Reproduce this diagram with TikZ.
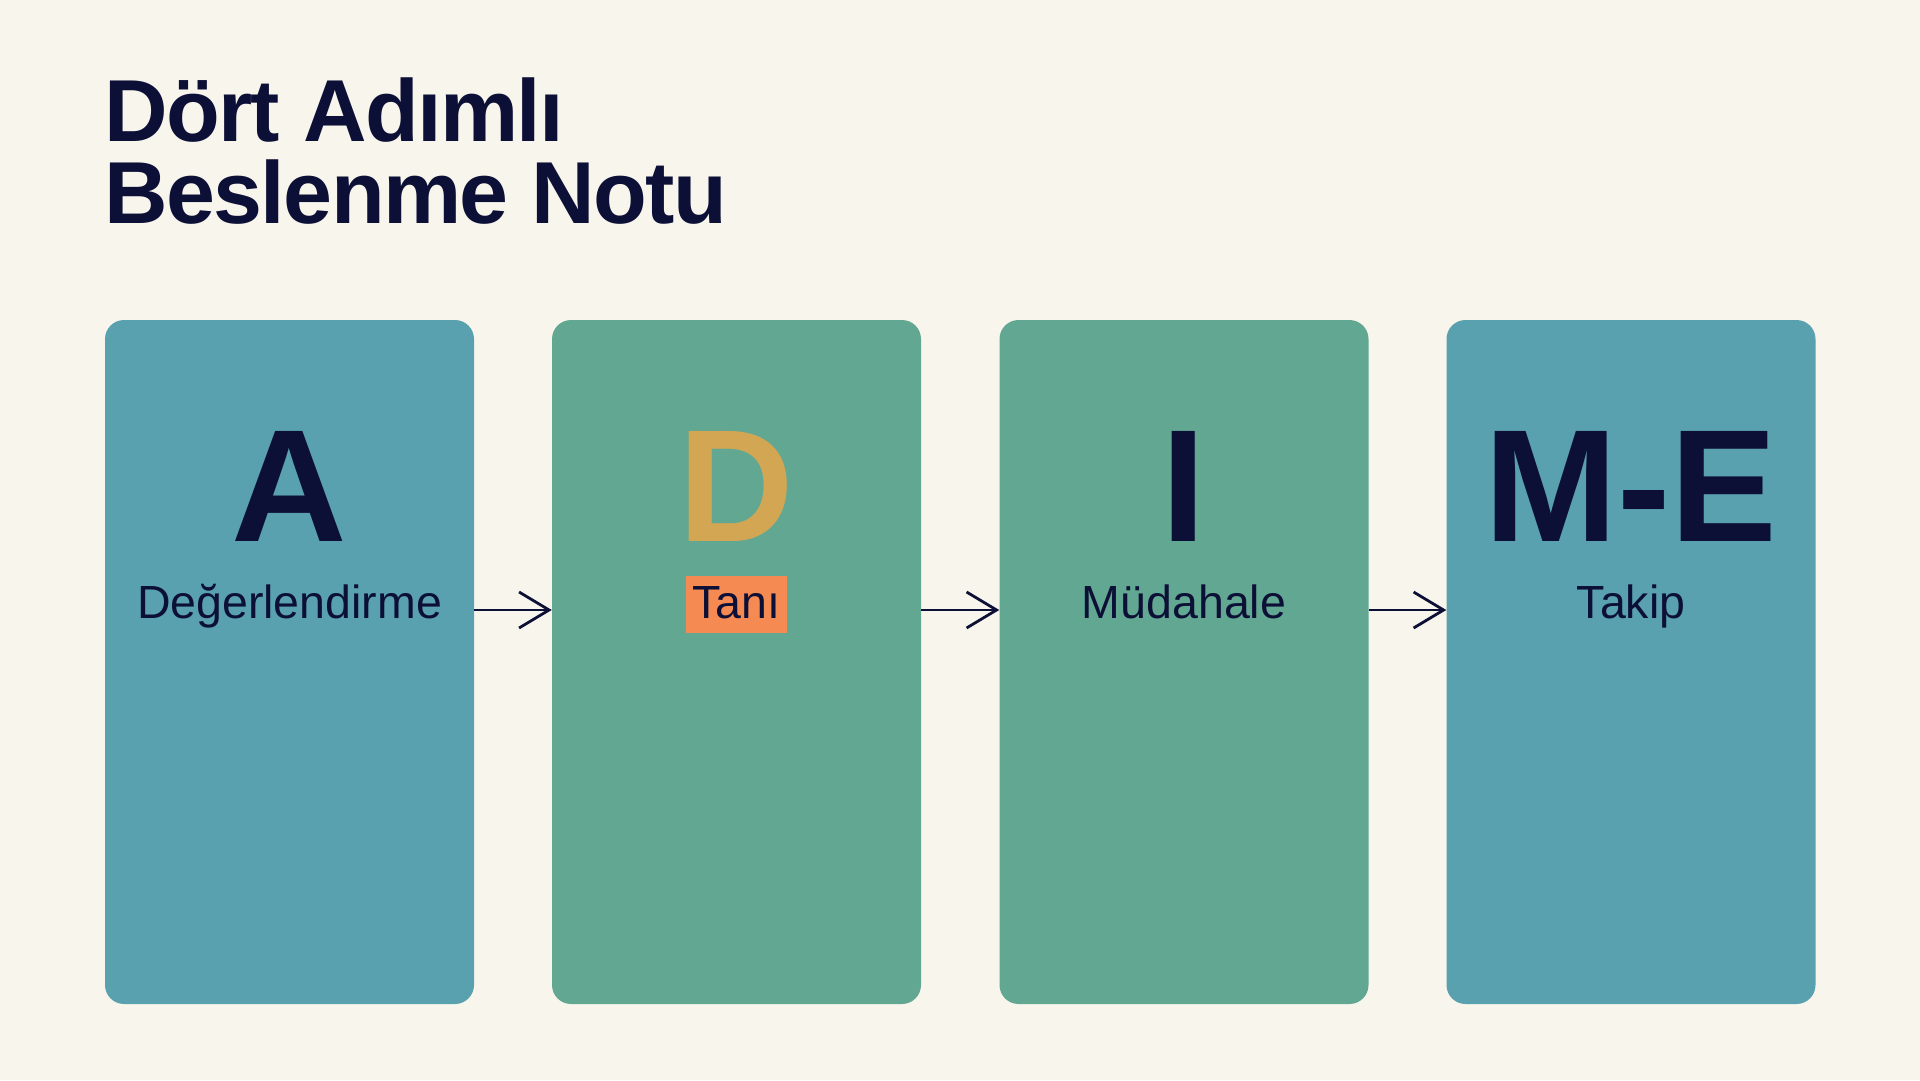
\documentclass[tikz,border=0pt]{standalone}
\usepackage{fontspec}
\setmainfont{Liberation Sans}
\usetikzlibrary{arrows.meta}
\definecolor{bgc}{HTML}{F8F5EC}
\definecolor{navy}{HTML}{0D1036}
\definecolor{cblue}{HTML}{5AA1AF}
\definecolor{cgreen}{HTML}{62A792}
\definecolor{gold}{HTML}{D3A654}
\definecolor{orng}{HTML}{F58A52}
\tikzset{
  card/.style={rounded corners=19pt, minimum width=369pt, minimum height=684pt, inner sep=0pt, draw=none},
  bigletter/.style={anchor=base, text=navy, font=\fontsize{160}{160}\selectfont\bfseries, inner sep=0pt},
  steplabel/.style={anchor=base, text=navy, font=\fontsize{46.5}{46.5}\selectfont, inner sep=0pt},
  titletext/.style={anchor=base west, text=navy, inner sep=0pt, align=left},
  arr/.style={draw=navy, line width=2.8pt, -{Straight Barb[length=30pt,width=36pt,line width=2.8pt]}}
}
\begin{document}
\begin{tikzpicture}[x=1pt,y=-1pt]
\fill[bgc] (0,0) rectangle (1920,1080);
\useasboundingbox (0,0) rectangle (1920,1080);
\newfontfamily\titlefont[LetterSpace=-1.8]{Liberation Sans}
\node[titletext, font=\fontsize{88}{82}\titlefont\bfseries] (t1) at (104,141) {Dört Adımlı};
\node[titletext, font=\fontsize{88}{82}\titlefont\bfseries] (t2) at (104,223) {Beslenme Notu};

\node[card, fill=cblue] (c1) at (289.5,662) {};
\node[card, fill=cgreen] (c2) at (736.5,662) {};
\node[card, fill=cgreen] (c3) at (1184,662) {};
\node[card, fill=cblue] (c4) at (1631,662) {};

\node[bigletter] (l1) at (289.5,541) {A};
\node[bigletter, text=gold] (l2) at (736.5,541) {D};
\node[bigletter] (l3) at (1184,541) {I};
\node[bigletter] (l4) at (1631,541) {M-E};

\node[steplabel] (s1) at (289.5,618) {Değerlendirme};
\node[steplabel, fill=orng, text height=42pt, text depth=15pt, minimum width=101pt] (s2) at (736.5,618) {Tanı};
\node[steplabel] (s3) at (1184,618) {Müdahale};
\node[steplabel] (s4) at (1631,618) {Takip};

\draw[arr] ([yshift=52pt]c1.east) -- ([yshift=52pt]c2.west);
\draw[arr] ([yshift=52pt]c2.east) -- ([yshift=52pt]c3.west);
\draw[arr] ([yshift=52pt]c3.east) -- ([yshift=52pt]c4.west);
\end{tikzpicture}
\end{document}
